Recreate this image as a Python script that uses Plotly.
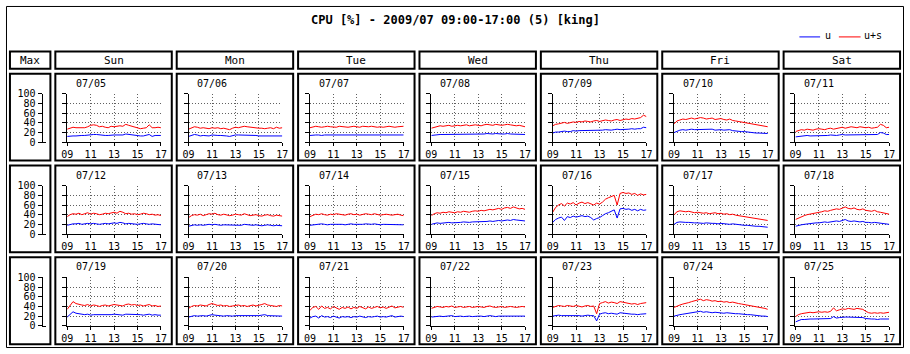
import plotly.graph_objects as go

W, H = 910, 354
FONT = "DejaVu Sans Mono, monospace"

days = ["Sun", "Mon", "Tue", "Wed", "Thu", "Fri", "Sat"]
dates = ["07/05", "07/06", "07/07", "07/08", "07/09", "07/10", "07/11",
         "07/12", "07/13", "07/14", "07/15", "07/16", "07/17", "07/18",
         "07/19", "07/20", "07/21", "07/22", "07/23", "07/24", "07/25"]
hours = [9 + i * 0.25 for i in range(33)]
xtick_vals = [9, 11, 13, 15, 17]
xtick_text = ["09", "11", "13", "15", "17"]
ytick_vals = [0, 20, 40, 60, 80, 100]

# ---- week 1 ----
us_0705 = [27,29,31,30,30,31,30,32,35,36,35,32,33,31,30,33,32,33,34,33,37,35,33,31,29,28,29,30,36,30,30,31,30]
u_0705 = [12,13,13,13,14,14,14,15,16,16,16,15,15,14,14,15,15,15,15,15,17,16,15,14,13,13,13,14,16,12,14,14,14]
us_0706 = [27,30,32,31,29,30,29,28,30,29,30,28,29,27,26,29,31,30,32,33,32,31,30,30,29,29,28,29,30,28,31,29,30]
u_0706 = [12,14,16,15,13,14,14,13,15,14,14,14,14,13,12,14,15,15,15,15,15,14,14,14,13,13,13,13,14,13,14,13,13]
us_0707 = [30,32,33,32,31,32,33,32,32,31,33,32,32,31,32,33,32,31,33,32,32,33,32,31,32,31,32,33,32,31,32,32,33]
u_0707 = [14,15,15,15,14,15,15,15,15,14,15,15,15,14,15,15,15,14,15,15,15,15,15,14,15,14,15,15,15,14,15,15,15]
us_0708 = [29,31,33,34,33,34,35,33,34,35,34,35,36,34,35,36,35,34,36,37,36,35,37,36,35,36,37,36,35,34,35,33,32]
u_0708 = [14,15,15,16,16,16,17,16,16,17,16,17,17,16,17,17,17,16,17,18,17,17,18,17,17,17,18,17,17,16,17,16,16]
us_0709 = [34,37,38,40,41,39,40,42,41,43,42,44,43,42,44,45,43,44,46,45,44,46,47,45,46,48,47,49,48,50,51,56,53]
u_0709 = [19,21,21,22,23,22,22,24,23,24,24,25,24,24,25,25,24,25,26,25,25,26,27,26,26,27,27,28,27,28,28,31,30]
us_0710 = [38,44,46,48,47,49,50,48,49,51,50,48,49,50,47,48,49,47,46,48,45,44,43,42,41,40,38,37,36,35,34,33,32]
u_0710 = [20,23,25,26,25,26,27,26,26,27,27,26,26,27,25,26,26,25,25,26,24,23,23,22,22,21,20,20,19,19,19,18,18]
us_0711 = [22,24,26,25,27,26,25,27,28,27,26,28,29,27,28,30,31,29,30,32,31,30,32,31,30,31,29,30,31,37,35,30,31]
u_0711 = [11,12,13,13,14,13,13,14,14,14,13,14,15,14,14,15,16,15,15,16,16,15,16,16,15,16,15,15,16,20,19,16,16]
# ---- week 2 ----
us_0712 = [36,40,42,41,43,40,42,44,41,43,42,40,41,43,42,44,45,43,47,45,42,43,41,42,40,41,43,42,40,41,39,40,38]
u_0712 = [18,20,21,21,22,20,21,22,21,22,21,20,21,22,21,22,23,22,24,23,21,22,21,21,20,21,22,21,20,21,20,20,19]
us_0713 = [34,38,40,39,41,38,40,42,41,43,40,39,41,40,38,39,41,40,39,42,40,38,39,40,38,37,39,40,38,37,39,38,37]
u_0713 = [16,18,19,18,19,18,19,20,19,20,19,18,19,19,18,18,19,19,18,20,19,18,18,19,18,17,18,19,18,17,18,18,17]
us_0714 = [36,39,41,40,42,40,39,41,40,42,41,40,39,41,42,40,41,39,40,42,41,40,42,41,39,40,41,40,39,40,41,39,38]
u_0714 = [18,19,20,20,21,20,19,20,20,21,20,20,19,20,21,20,20,19,20,21,20,20,21,20,19,20,20,20,19,20,20,19,19]
us_0715 = [38,42,44,43,45,44,46,45,44,46,45,47,46,45,47,48,47,49,48,50,51,50,52,53,51,54,55,53,56,54,52,53,51]
u_0715 = [20,22,23,22,23,23,24,23,23,24,24,25,24,24,25,25,25,26,25,26,27,26,27,28,27,28,29,28,30,29,28,28,27]
us_0716 = [45,55,60,63,58,64,62,65,60,64,66,63,65,62,60,64,62,66,72,75,78,80,60,84,86,84,85,82,84,80,83,81,82]
u_0716 = [24,30,33,35,28,36,34,37,35,36,38,36,37,34,29,32,34,38,42,44,47,50,33,52,53,51,52,49,51,48,51,49,50]
us_0717 = [40,46,48,47,46,47,45,44,45,44,43,44,42,43,44,42,43,41,42,40,41,39,38,37,36,35,34,33,32,31,30,29,28]
u_0717 = [20,24,25,24,24,24,23,23,23,22,22,23,22,22,22,21,22,21,21,20,21,20,19,19,18,18,17,17,16,16,15,15,14]
us_0718 = [30,33,36,38,40,41,43,44,45,46,48,47,49,50,52,51,54,56,53,52,54,51,50,52,49,48,47,49,46,45,44,43,41]
u_0718 = [16,18,19,20,21,21,22,23,23,24,25,24,25,26,27,26,28,30,27,26,27,26,25,26,24,24,23,24,23,22,22,21,20]
# ---- week 3 ----
us_0719 = [34,42,50,46,44,43,42,44,41,43,42,40,42,43,41,42,44,43,42,41,44,45,43,44,42,43,41,42,44,41,42,40,41]
u_0719 = [18,24,29,26,25,24,23,24,22,23,23,22,23,23,22,23,24,23,23,22,24,24,23,24,23,23,22,23,24,22,23,22,22]
us_0720 = [36,40,42,41,43,42,41,44,46,44,42,43,41,42,40,41,42,43,41,42,40,42,43,41,42,44,46,43,42,41,40,42,41]
u_0720 = [18,20,21,20,21,21,20,22,23,22,21,21,20,21,20,20,21,21,20,21,20,21,21,20,21,22,23,21,21,20,20,21,20]
us_0721 = [32,38,40,34,41,36,38,35,40,37,34,38,36,39,35,38,36,40,37,35,39,36,38,40,37,39,36,38,41,37,39,40,38]
u_0721 = [16,19,20,16,21,18,19,17,20,18,16,19,18,19,17,19,18,20,18,17,19,18,19,20,18,19,18,19,21,18,19,20,19]
us_0722 = [36,38,40,39,38,40,39,41,38,39,40,38,39,40,38,39,40,39,38,40,41,39,38,39,40,38,39,40,39,38,39,40,39]
u_0722 = [18,19,20,20,19,20,20,21,19,20,20,19,20,20,19,20,20,20,19,20,21,20,19,20,20,19,20,20,20,19,20,20,20]
us_0723 = [38,40,42,41,40,42,41,40,42,41,39,41,42,40,41,25,46,48,50,47,49,48,46,50,49,48,47,45,46,44,46,47,48]
u_0723 = [20,21,22,21,21,22,21,21,22,21,20,21,22,21,21,10,24,26,27,25,26,25,24,27,26,25,25,24,24,23,24,25,25]
us_0724 = [38,41,43,45,46,48,50,52,53,55,52,54,53,51,52,50,51,49,50,48,49,47,46,45,44,43,42,40,39,38,37,36,34]
u_0724 = [20,22,23,24,25,26,27,28,28,30,28,29,28,27,28,27,27,26,27,26,26,25,25,24,24,23,23,22,21,21,20,20,19]
us_0725 = [19,23,25,26,27,28,27,28,29,28,29,28,30,37,31,33,35,34,36,35,34,36,35,34,30,27,26,27,26,27,26,27,28]
u_0725 = [8,11,13,13,14,14,14,14,14,14,15,14,15,19,16,17,18,18,18,18,18,18,18,17,15,14,14,14,13,14,14,14,14]

u_series = [u_0705, u_0706, u_0707, u_0708, u_0709, u_0710, u_0711,
            u_0712, u_0713, u_0714, u_0715, u_0716, u_0717, u_0718,
            u_0719, u_0720, u_0721, u_0722, u_0723, u_0724, u_0725]
us_series = [us_0705, us_0706, us_0707, us_0708, us_0709, us_0710, us_0711,
             us_0712, us_0713, us_0714, us_0715, us_0716, us_0717, us_0718,
             us_0719, us_0720, us_0721, us_0722, us_0723, us_0724, us_0725]

BLUE = "#0000ff"
RED = "#ff0000"


def px(x):
    return x / W


def py(y):
    return 1 - y / H


fig = go.Figure()
layout = {}
shapes = []
annotations = []


def rect(x0, x1, y0, y1, width=2):
    shapes.append(dict(type="rect", xref="paper", yref="paper",
                       x0=px(x0), x1=px(x1), y0=py(y1), y1=py(y0),
                       line=dict(color="black", width=width),
                       fillcolor="rgba(0,0,0,0)", layer="above"))


def label(text, x, y, size=10, xanchor="center"):
    annotations.append(dict(text=text, x=px(x), y=py(y), xref="paper", yref="paper",
                            showarrow=False, xanchor=xanchor, yanchor="middle",
                            font=dict(family=FONT, size=size, color="black")))


# outer border
rect(0.5, 909.5, 0.5, 353.5, width=1)

# title
label("<b>CPU [%] - 2009/07 09:00-17:00 (5) [king]</b>", 455, 15, size=12)

# legend
shapes.append(dict(type="line", xref="paper", yref="paper", x0=px(804), x1=px(825),
                   y0=py(32), y1=py(32), line=dict(color=BLUE, width=1)))
label("u", 828, 31, size=10, xanchor="left")
shapes.append(dict(type="line", xref="paper", yref="paper", x0=px(844), x1=px(866),
                   y0=py(32), y1=py(32), line=dict(color=RED, width=1)))
label("u+s", 867, 31, size=10, xanchor="left")

# header row
header = [("Max", 4, 45)] + [(d, 50 + 123 * c, 168 + 123 * c) for c, d in enumerate(days)]
for text, x0, x1 in header:
    rect(x0, x1, 47, 65)
    label(text, (x0 + x1) / 2, 56, size=11)

axis_common = dict(showline=True, linecolor="black", linewidth=1, zeroline=False,
                   fixedrange=True, tickcolor="black", tickwidth=1,
                   tickfont=dict(family=FONT, size=10, color="black"))

idx = 0


def axis_names(i):
    if i == 1:
        return "xaxis", "yaxis", "x", "y"
    return f"xaxis{i}", f"yaxis{i}", f"x{i}", f"y{i}"


for r in range(3):
    top = 91 + 95 * r
    bot = 141 + 95 * r
    ydom = [py(bot), py(top)]

    # Max column box and scale
    rect(4, 45, 70 + 95 * r, 160 + 95 * r)
    idx += 1
    xk, yk, xr, yr = axis_names(idx)
    layout[xk] = dict(axis_common, domain=[px(37), px(41)], range=[0, 1], anchor=yr,
                      showticklabels=False, ticks="", showgrid=False)
    layout[yk] = dict(axis_common, domain=ydom, range=[0, 100], anchor=xr,
                      tickvals=ytick_vals, ticks="outside", ticklen=4, showgrid=False)
    fig.add_trace(go.Scatter(x=[], y=[], xaxis=xr, yaxis=yr, showlegend=False))

    for c in range(7):
        k = r * 7 + c
        rect(50 + 123 * c, 168 + 123 * c, 70 + 95 * r, 160 + 95 * r)
        label(dates[k], 69 + 123 * c, 80 + 95 * r, size=10, xanchor="left")
        idx += 1
        xk, yk, xr, yr = axis_names(idx)
        left = 62 + 123 * c
        right = 157 + 123 * c
        layout[xk] = dict(axis_common, domain=[px(left), px(right)], range=[9, 17],
                          anchor=yr, tickvals=xtick_vals, ticktext=xtick_text,
                          ticks="outside", ticklen=3, showgrid=True,
                          gridcolor="#606060", gridwidth=1, griddash="1px,2px")
        layout[yk] = dict(axis_common, domain=ydom, range=[0, 100], anchor=xr,
                          tickvals=ytick_vals, showticklabels=False,
                          ticks="outside", ticklen=4, showgrid=True,
                          gridcolor="#606060", gridwidth=1, griddash="1px,2px")
        fig.add_trace(go.Scatter(x=hours, y=u_series[k], mode="lines", name="u",
                                 line=dict(color=BLUE, width=1), xaxis=xr, yaxis=yr,
                                 showlegend=False))
        fig.add_trace(go.Scatter(x=hours, y=us_series[k], mode="lines", name="u+s",
                                 line=dict(color=RED, width=1), xaxis=xr, yaxis=yr,
                                 showlegend=False))

fig.update_layout(width=W, height=H, margin=dict(l=0, r=0, t=0, b=0, pad=0),
                  paper_bgcolor="white", plot_bgcolor="white",
                  shapes=shapes, annotations=annotations, showlegend=False,
                  hovermode=False, **layout)

fig.write_html("out.html", config={"displayModeBar": False},
               post_script="document.body.style.margin='0px';document.body.style.overflow='hidden';")
